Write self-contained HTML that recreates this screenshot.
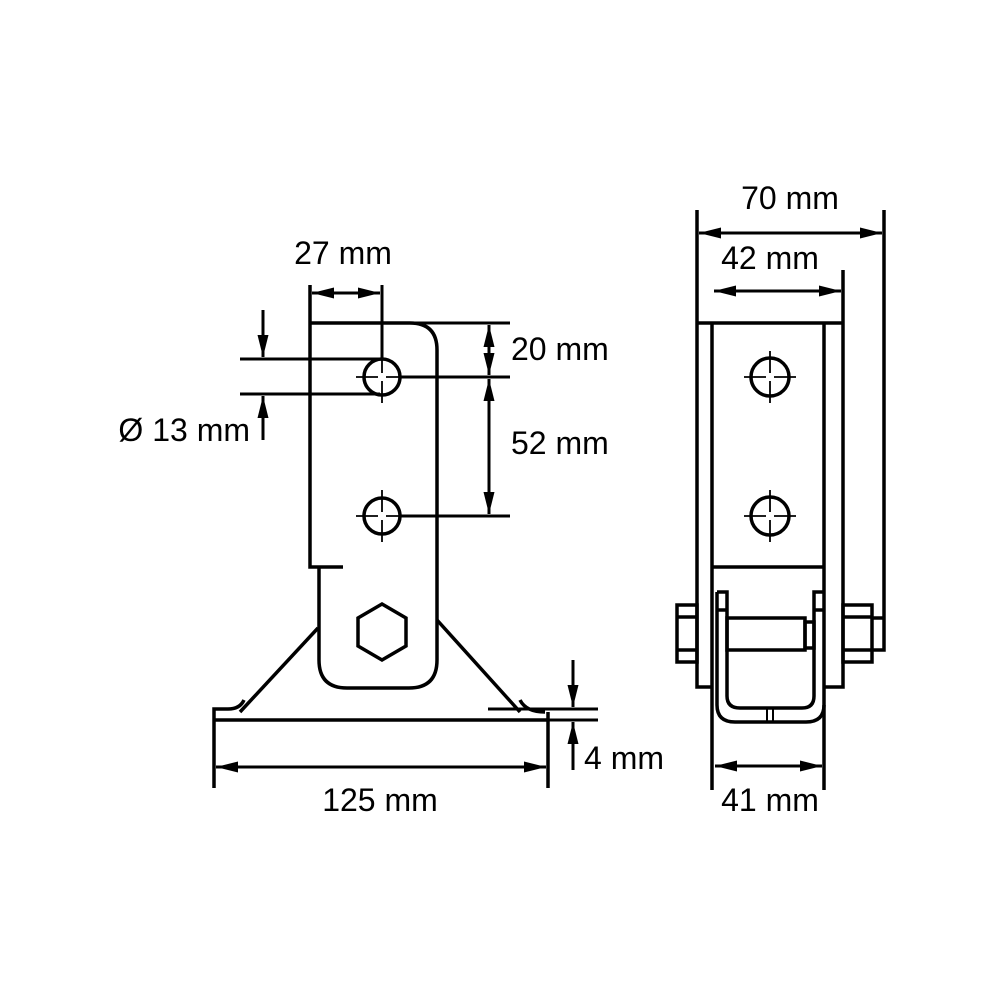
<!DOCTYPE html>
<html><head><style>
html,body{margin:0;padding:0;background:#fff}
svg{display:block}
text{font-family:"Liberation Sans",sans-serif;font-size:32px;fill:#000}
</style></head><body>
<svg width="1000" height="1000" viewBox="0 0 1000 1000" xmlns="http://www.w3.org/2000/svg">
<defs>
<marker id="m" viewBox="0 0 20 10" refX="20" refY="5" markerWidth="22" markerHeight="11" orient="auto-start-reverse" markerUnits="userSpaceOnUse"><path d="M0,0L20,5L0,10z" fill="#000"/></marker>
</defs>
<g fill="none" stroke="#000" stroke-width="3.5">
<path d="M310,285 V567 H343"/>
<path d="M319,567 V660 Q319,688 347,688 H409 Q437,688 437,660 V350 Q437,323 410,323 H310"/>
<circle cx="382" cy="377" r="18"/>
<circle cx="382" cy="516" r="18"/>
<polygon points="382,604 406,618 406,646 382,660 358,646 358,618"/>
<path d="M318,628 L240,712"/>
<path d="M437,620 L520,712"/>
<path d="M214,788 V709 H228 Q240,709 244,700 M214,720 H548 M520,700 Q526,712 545,712"/>
<path d="M548,712 V788"/>
<path d="M382,285 V358" stroke-width="3"/>
<path d="M410,323 H510 M400,377 H510 M400,516 H510" stroke-width="3"/>
<path d="M240,359 H380 M240,394 H380" stroke-width="3"/>
<path d="M488,709 H598 M548,720 H598" stroke-width="3"/>
<path d="M697,210 V687 H712 M712,323 V790"/>
<path d="M697,323 H843"/>
<path d="M824,323 V790 M843,270 V687 H824"/>
<path d="M712,567 H824"/>
<path d="M884,210 V650 H872"/>
<circle cx="770" cy="377" r="19"/>
<circle cx="770" cy="516" r="19"/>
<rect x="677" y="605" width="20" height="57"/>
<path d="M677,617 H697 M677,650 H697"/>
<rect x="843" y="605" width="29" height="57"/>
<path d="M843,617 H872 M843,650 H872"/>
<path d="M872,618 H884"/>
<path d="M717,592 H727 V696 Q727,708 740,708 H802 Q814,708 814,696 V592 H824"/>
<path d="M717,592 V705 Q717,722 735,722 H806 Q824,722 824,705"/>
<path d="M727,610 H717 M814,610 H824"/>
<rect x="727" y="618" width="78" height="32"/>
<rect x="805" y="622" width="9" height="26"/>
<path d="M767,708 V722 M773,708 V722" stroke-width="2"/>
</g>
<g stroke="#000" stroke-width="1.8">
<path d="M356,377 H378 M386,377 H408 M382,351 V373 M382,381 V403 M356,516 H378 M386,516 H408 M382,490 V512 M382,520 V542"/>
<path d="M744,377 H766 M774,377 H796 M770,351 V373 M770,381 V403 M744,516 H766 M774,516 H796 M770,490 V512 M770,520 V542"/>
</g>
<g stroke="#000" stroke-width="3" fill="none">
<path d="M312,293 H380" marker-start="url(#m)" marker-end="url(#m)"/>
<path d="M489,325 V375" marker-start="url(#m)" marker-end="url(#m)"/>
<path d="M489,379 V514" marker-start="url(#m)" marker-end="url(#m)"/>
<path d="M263,310 V357" marker-end="url(#m)"/>
<path d="M263,440 V396" marker-end="url(#m)"/>
<path d="M216,767 H546" marker-start="url(#m)" marker-end="url(#m)"/>
<path d="M573,660 V707" marker-end="url(#m)"/>
<path d="M573,770 V722" marker-end="url(#m)"/>
<path d="M699,233 H882" marker-start="url(#m)" marker-end="url(#m)"/>
<path d="M714,291 H841" marker-start="url(#m)" marker-end="url(#m)"/>
<path d="M715,766 H822" marker-start="url(#m)" marker-end="url(#m)"/>
</g>
<text x="343" y="264" text-anchor="middle">27 mm</text>
<text x="511" y="360">20 mm</text>
<text x="511" y="454">52 mm</text>
<text x="250" y="441" text-anchor="end">Ø 13 mm</text>
<text x="380" y="811" text-anchor="middle">125 mm</text>
<text x="584" y="769">4 mm</text>
<text x="790" y="209" text-anchor="middle">70 mm</text>
<text x="770" y="269" text-anchor="middle">42 mm</text>
<text x="770" y="811" text-anchor="middle">41 mm</text>
</svg>
</body></html>
